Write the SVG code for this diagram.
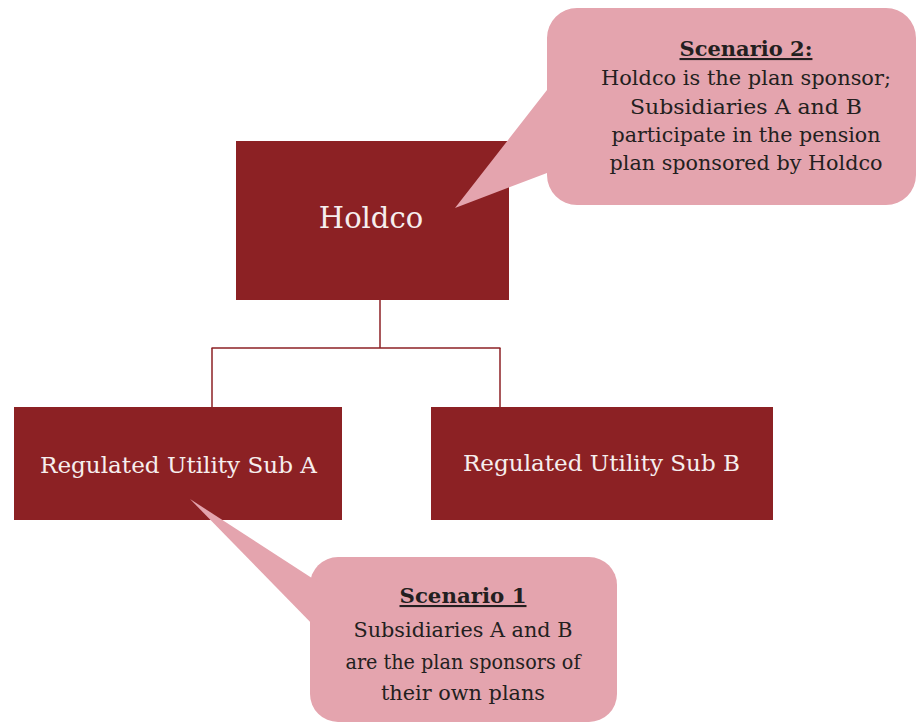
<svg xmlns="http://www.w3.org/2000/svg" width="918" height="723" viewBox="0 0 918 723">
<style>
.box{fill:#8c2124;}
.call{fill:#e4a4ae;}
.wt{fill:#f6eeee;font-family:"DejaVu Serif","Liberation Serif",serif;text-anchor:middle;}
.ct{fill:#231f20;font-family:"DejaVu Serif","Liberation Serif",serif;text-anchor:middle;}
.hd{font-weight:bold;text-decoration:underline;}
.conn{stroke:#8c2124;stroke-width:1.5;fill:none;}
</style>
<rect width="918" height="723" fill="#ffffff"/>
<g id="connectors">
<line class="conn" x1="380" y1="300" x2="380" y2="348"/>
<line class="conn" x1="211.5" y1="348" x2="500.5" y2="348"/>
<line class="conn" x1="212" y1="348" x2="212" y2="407"/>
<line class="conn" x1="500" y1="348" x2="500" y2="418"/>
</g>
<g id="holdco">
<rect class="box" x="236" y="141" width="273" height="159"/>
<text class="wt" x="371" y="228" font-size="29">Holdco</text>
</g>
<g id="subA">
<rect class="box" x="14" y="407" width="328" height="113"/>
<text class="wt" x="178.5" y="473" font-size="23" textLength="277" lengthAdjust="spacingAndGlyphs">Regulated Utility Sub A</text>
</g>
<g id="subB">
<rect class="box" x="431" y="407" width="342" height="113"/>
<text class="wt" x="601.5" y="471" font-size="23" textLength="277" lengthAdjust="spacingAndGlyphs">Regulated Utility Sub B</text>
</g>
<g id="scenario2">
<path class="call" d="M577,8 H886 A30,30 0 0 1 916,38 V175 A30,30 0 0 1 886,205 H577 A30,30 0 0 1 547,175 V173 L455,208 L547,90 V38 A30,30 0 0 1 577,8 Z"/>
<text class="ct hd" x="746" y="56" font-size="21">Scenario 2:</text>
<text class="ct" x="746" y="85" font-size="21" textLength="290" lengthAdjust="spacingAndGlyphs">Holdco is the plan sponsor;</text>
<text class="ct" x="746" y="114" font-size="21" textLength="232" lengthAdjust="spacingAndGlyphs">Subsidiaries A and B</text>
<text class="ct" x="746" y="142" font-size="21" textLength="269" lengthAdjust="spacingAndGlyphs">participate in the pension</text>
<text class="ct" x="746" y="170" font-size="21" textLength="273" lengthAdjust="spacingAndGlyphs">plan sponsored by Holdco</text>
</g>
<g id="scenario1">
<rect class="call" x="310" y="557" width="307" height="165" rx="28" ry="28"/>
<polygon class="call" points="190,499 318,582 318,630"/>
<text class="ct hd" x="463" y="603" font-size="21" textLength="127" lengthAdjust="spacingAndGlyphs">Scenario 1</text>
<text class="ct" x="463" y="637" font-size="21" textLength="219" lengthAdjust="spacingAndGlyphs">Subsidiaries A and B</text>
<text class="ct" x="463" y="669" font-size="21" textLength="235" lengthAdjust="spacingAndGlyphs">are the plan sponsors of</text>
<text class="ct" x="463" y="700" font-size="21" textLength="164" lengthAdjust="spacingAndGlyphs">their own plans</text>
</g>
</svg>
